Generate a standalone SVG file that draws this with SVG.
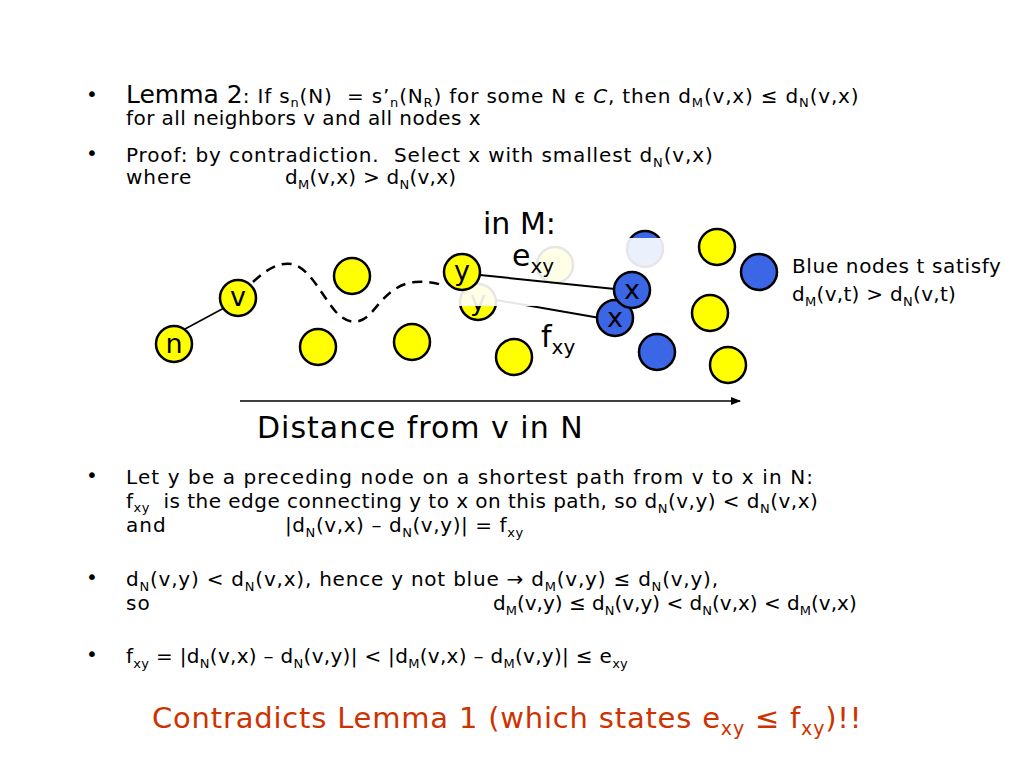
<svg xmlns="http://www.w3.org/2000/svg" width="1024" height="768" viewBox="0 0 1024 768">
<defs>
<style>
text{font-family:"DejaVu Sans","Open Sans",sans-serif;fill:#000;white-space:pre}
.t{font-size:20px;letter-spacing:1px}
.s{font-size:13px}
.big{font-size:25px;letter-spacing:0}
.lab{font-size:30px}
.dist{font-size:30px;letter-spacing:1px}
.nl{font-size:27px;text-anchor:middle}
.yel{fill:#ffff00;stroke:#000;stroke-width:2.5}
.blu{fill:#3b66e6;stroke:#000;stroke-width:2.5}
.red{fill:#cc3300;font-size:29px;letter-spacing:0.8px}
</style>
<marker id="ah" markerWidth="10" markerHeight="8" refX="9" refY="4" orient="auto" markerUnits="userSpaceOnUse">
<path d="M0,0 L10,4 L0,8 z" fill="#000"/>
</marker>
</defs>
<rect width="1024" height="768" fill="#fff"/>

<g id="bullets">
<text class="t" x="86" y="101">•</text>
<text class="t" x="86" y="160">•</text>
<text class="t" x="86" y="482">•</text>
<text class="t" x="86" y="584">•</text>
<text class="t" x="86" y="661">•</text>
</g>

<g id="lemma">
<text class="t" x="126" y="103" style="letter-spacing:0.82px"><tspan class="big">Lemma 2</tspan>: If s<tspan class="s" dy="4">n</tspan><tspan dy="-4">(N)  = s’</tspan><tspan class="s" dy="4">n</tspan><tspan dy="-4">(N</tspan><tspan class="s" dy="4">R</tspan><tspan dy="-4">) for some N є </tspan><tspan font-style="italic">C</tspan>, then d<tspan class="s" dy="4">M</tspan><tspan dy="-4">(v,x) ≤ d</tspan><tspan class="s" dy="4">N</tspan><tspan dy="-4">(v,x)</tspan></text>
<text class="t" x="126" y="125" style="letter-spacing:0.43px">for all neighbors v and all nodes x</text>
</g>

<g id="proof">
<text class="t" x="126" y="162" style="letter-spacing:0.88px">Proof: by contradiction.  Select x with smallest d<tspan class="s" dy="5">N</tspan><tspan dy="-5">(v,x)</tspan></text>
<text class="t" x="126" y="184">where</text>
<text class="t" x="285" y="184" style="letter-spacing:0.25px">d<tspan class="s" dy="5">M</tspan><tspan dy="-5">(v,x) &gt; d</tspan><tspan class="s" dy="5">N</tspan><tspan dy="-5">(v,x)</tspan></text>
</g>

<g id="connectors">
<path d="M253,282 C268,268 280,262 292,264 C310,268 322,296 336,312 C347,324 360,326 372,312 C385,296 396,284 415,282 C428,281 436,283 445,286" fill="none" stroke="#000" stroke-width="2.5" stroke-dasharray="10,7"/>
<line x1="185" y1="329" x2="224" y2="308" stroke="#000" stroke-width="1.5"/>
<line x1="496" y1="300" x2="600" y2="318" stroke="#000" stroke-width="2"/>
<line x1="240" y1="401" x2="740" y2="401" stroke="#000" stroke-width="1.5" marker-end="url(#ah)"/>
</g>

<g id="node-n"><circle class="yel" cx="174" cy="344" r="18"/><text class="nl" x="174" y="353">n</text></g>
<g id="node-v"><circle class="yel" cx="238" cy="298" r="18"/><text class="nl" x="238" y="306">v</text></g>
<g id="node-y1"><circle class="yel" cx="352" cy="276" r="18"/></g>
<g id="node-y2"><circle class="yel" cx="318" cy="347" r="18"/></g>
<g id="node-y3"><circle class="yel" cx="412" cy="342" r="18"/></g>
<g id="node-y4"><circle class="yel" cx="514" cy="357" r="18"/></g>
<g id="node-ylow"><circle class="yel" cx="478" cy="302" r="18"/><text class="nl" x="478" y="310">y</text></g>
<g id="node-faded-y"><circle class="yel" cx="555" cy="265" r="18"/></g>
<g id="node-faded-b"><circle class="blu" cx="645" cy="249" r="18"/></g>
<g id="node-b1"><circle class="blu" cx="657" cy="352" r="18"/></g>
<g id="node-y5"><circle class="yel" cx="717" cy="247" r="18"/></g>
<g id="node-b2"><circle class="blu" cx="759" cy="272" r="18"/></g>
<g id="node-y6"><circle class="yel" cx="710" cy="313" r="18"/></g>
<g id="node-y7"><circle class="yel" cx="728" cy="365" r="18"/></g>

<rect x="457" y="238" width="225" height="68" fill="#fff" fill-opacity="0.9"/>

<g id="node-xlow"><circle class="blu" cx="615" cy="318" r="18"/><text class="nl" x="615" y="327">x</text></g>
<g id="edge-exy"><line x1="480" y1="275" x2="615" y2="289" stroke="#000" stroke-width="2"/></g>
<g id="node-ytop"><circle class="yel" cx="462" cy="272" r="18"/><text class="nl" x="462" y="280">y</text></g>
<g id="node-xtop"><circle class="blu" cx="632" cy="290" r="18"/><text class="nl" x="632" y="299">x</text></g>

<g id="labels">
<text class="lab" x="483" y="234">in M:</text>
<text class="lab" x="512" y="266">e<tspan font-size="20" dy="7">xy</tspan></text>
<text class="lab" x="541" y="347">f<tspan font-size="20" dy="7">xy</tspan></text>
<text class="dist" x="257" y="438">Distance from v in N</text>
<text class="t" x="792" y="273" style="letter-spacing:0.65px">Blue nodes t satisfy</text>
<text class="t" x="792" y="301" style="letter-spacing:0.3px">d<tspan class="s" dy="5">M</tspan><tspan dy="-5">(v,t) &gt; d</tspan><tspan class="s" dy="5">N</tspan><tspan dy="-5">(v,t)</tspan></text>
</g>

<g id="step1">
<text class="t" x="126" y="484" style="letter-spacing:1.1px">Let y be a preceding node on a shortest path from v to x in N:</text>
<text class="t" x="126" y="508" style="letter-spacing:0.47px">f<tspan class="s" dy="4">xy</tspan><tspan dy="-4">  is the edge connecting y to x on this path, so d</tspan><tspan class="s" dy="5">N</tspan><tspan dy="-5">(v,y) &lt; d</tspan><tspan class="s" dy="5">N</tspan><tspan dy="-5">(v,x)</tspan></text>
<text class="t" x="126" y="532">and</text>
<text class="t" x="285" y="532" style="letter-spacing:0.58px">|d<tspan class="s" dy="5">N</tspan><tspan dy="-5">(v,x) – d</tspan><tspan class="s" dy="5">N</tspan><tspan dy="-5">(v,y)| = f</tspan><tspan class="s" dy="5">xy</tspan></text>
</g>

<g id="step2">
<text class="t" x="126" y="586" style="letter-spacing:0.78px">d<tspan class="s" dy="5">N</tspan><tspan dy="-5">(v,y) &lt; d</tspan><tspan class="s" dy="5">N</tspan><tspan dy="-5">(v,x), hence y not blue → d</tspan><tspan class="s" dy="5">M</tspan><tspan dy="-5">(v,y) ≤ d</tspan><tspan class="s" dy="5">N</tspan><tspan dy="-5">(v,y),</tspan></text>
<text class="t" x="126" y="610">so</text>
<text class="t" x="493" y="610" style="letter-spacing:0px">d<tspan class="s" dy="5">M</tspan><tspan dy="-5">(v,y) ≤ d</tspan><tspan class="s" dy="5">N</tspan><tspan dy="-5">(v,y) &lt; d</tspan><tspan class="s" dy="5">N</tspan><tspan dy="-5">(v,x) &lt; d</tspan><tspan class="s" dy="5">M</tspan><tspan dy="-5">(v,x)</tspan></text>
</g>

<g id="step3">
<text class="t" x="126" y="663" style="letter-spacing:0.3px">f<tspan class="s" dy="5">xy</tspan><tspan dy="-5"> = |d</tspan><tspan class="s" dy="5">N</tspan><tspan dy="-5">(v,x) – d</tspan><tspan class="s" dy="5">N</tspan><tspan dy="-5">(v,y)| &lt; |d</tspan><tspan class="s" dy="5">M</tspan><tspan dy="-5">(v,x) – d</tspan><tspan class="s" dy="5">M</tspan><tspan dy="-5">(v,y)| ≤ e</tspan><tspan class="s" dy="5">xy</tspan></text>
</g>

<g id="conclusion">
<text class="red" x="152" y="728">Contradicts Lemma 1 (which states e<tspan font-size="19" dy="7">xy</tspan><tspan dy="-7"> ≤ f</tspan><tspan font-size="19" dy="7">xy</tspan><tspan dy="-7">)!!</tspan></text>
</g>
</svg>
